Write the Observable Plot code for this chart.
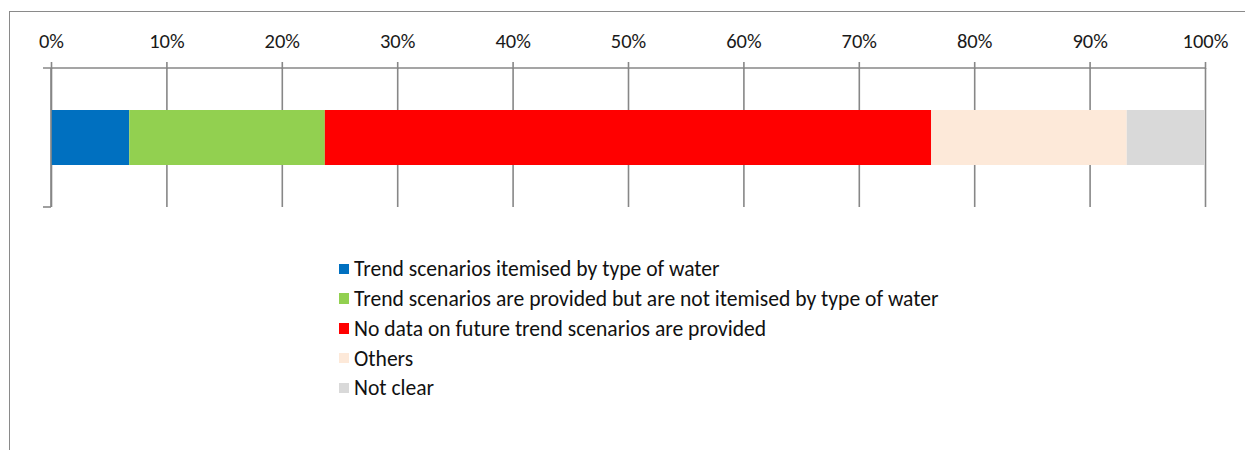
<!DOCTYPE html>
<html>
<head>
<meta charset="utf-8">
<script src="https://cdn.jsdelivr.net/npm/d3@7"></script>
<script src="https://cdn.jsdelivr.net/npm/@observablehq/plot@0.6"></script>
<style>
  body { margin: 0; background: #fff; font-family: Carlito, Calibri, Lato, sans-serif; }
  #frame {
    position: absolute; left: 9px; top: 11px; width: 1236px; height: 439px;
    border-left: 1.5px solid #8a8a8a; border-top: 1.5px solid #8a8a8a; box-sizing: border-box;
  }
  #chart { position: absolute; left: 0; top: 0; }
  #legend { position: absolute; left: 328.5px; top: 242px; font-size: 21.6px; color: #111; }
  .item { height: 29.75px; display: flex; align-items: center; white-space: nowrap; }
  .swatch { width: 10.5px; height: 10.5px; margin-right: 5px; flex: none; }
</style>
</head>
<body>
<div id="frame">
  <div id="chart"></div>
  <div id="legend"></div>
</div>
<script>
// Share of plans by how future trend scenarios are reported (59 plans)
const categories = [
  "Trend scenarios itemised by type of water",
  "Trend scenarios are provided but are not itemised by type of water",
  "No data on future trend scenarios are provided",
  "Others",
  "Not clear"
];
const shares = [6.78, 16.95, 52.54, 16.95, 6.78];
const colors = ["#0070C0", "#92D050", "#FF0000", "#FDE9D9", "#D9D9D9"];
const tickValues = [0, 10, 20, 30, 40, 50, 60, 70, 80, 90, 100];

const rows = categories.map((c, i) => ({group: "all", category: c, share: shares[i]}));
const lineColor = "#878787";

const plot = Plot.plot({
  width: 1234,
  height: 210,
  marginLeft: 41,
  marginRight: 39,
  marginTop: 56,
  marginBottom: 15,
  style: {fontFamily: "Carlito, Calibri, Lato, sans-serif", background: "transparent"},
  x: {domain: [0, 100], axis: null, label: null},
  y: {domain: ["all"], axis: null, padding: 0},
  color: {domain: categories, range: colors},
  marks: [
    Plot.gridX(tickValues, {stroke: lineColor, strokeOpacity: 1, strokeWidth: 1.6}),
    Plot.axisX(tickValues, {
      anchor: "top", label: null, tickSize: 7, tickPadding: 13.5, stroke: lineColor, strokeWidth: 1.6,
      tickFormat: d => d + "%", fontSize: 20.5, fill: "#1a1a1a"
    }),
    Plot.barX(rows, Plot.stackX({x: "share", y: "group", fill: "category", insetTop: 42, insetBottom: 42}))
  ]
});

// Category-axis line on the left and the value-axis baseline, each with its boundary ticks
const svg = d3.select(plot);
const xs = plot.scale("x"), ys = plot.scale("y");
const x0 = xs.apply(0), x1 = xs.apply(100);
const yTop = ys.apply("all"), yBot = yTop + ys.bandwidth;
const g = svg.append("g").attr("stroke", lineColor).attr("stroke-width", 1.6);
g.append("line").attr("x1", x0 - 8).attr("x2", x1).attr("y1", yTop).attr("y2", yTop);
g.append("line").attr("x1", x0).attr("x2", x0).attr("y1", yTop).attr("y2", yBot);
g.append("line").attr("x1", x0 - 8).attr("x2", x0).attr("y1", yBot).attr("y2", yBot);
document.getElementById("chart").appendChild(plot);

// Legend listing the categories in stacking order
const legend = d3.select("#legend");
categories.forEach((c, i) => {
  const item = legend.append("div").attr("class", "item");
  item.append("div").attr("class", "swatch").style("background", colors[i]);
  item.append("span").text(c);
});
</script>
</body>
</html>
